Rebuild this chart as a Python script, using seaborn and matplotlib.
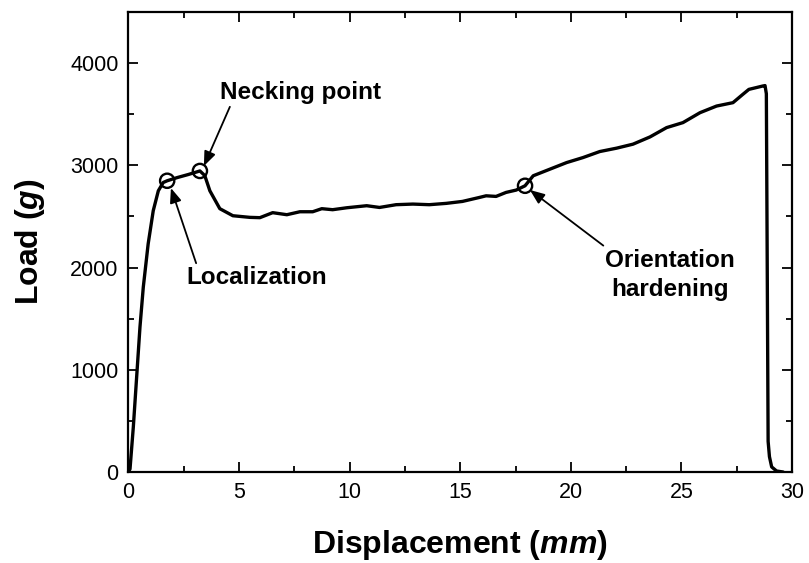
import numpy as np
import pandas as pd
import matplotlib
matplotlib.use("Agg")
import matplotlib.pyplot as plt
import seaborn as sns
from matplotlib.ticker import MultipleLocator

# Load-displacement record of the tensile test
displacement = [0.0, 0.07, 0.22, 0.37, 0.52, 0.67, 0.89, 1.12, 1.35, 1.57, 1.75,
                2.2, 2.7, 3.23, 3.45, 3.68, 4.13, 4.72, 5.49, 5.94, 6.52, 7.16,
                7.75, 8.33, 8.74, 9.23, 9.87, 10.77, 11.35, 12.1, 12.86, 13.6,
                14.37, 15.1, 15.87, 16.17, 16.62, 17.07, 17.53, 17.93, 18.3,
                19.06, 19.81, 20.55, 21.31, 22.07, 22.81, 23.58, 24.33, 25.07,
                25.84, 26.59, 27.33, 27.78, 28.05, 28.68, 28.78, 28.84, 28.88,
                28.92, 28.98, 29.08, 29.3, 29.6]
load = [0, 30, 442, 930, 1418, 1808, 2231, 2556, 2751, 2832, 2849,
        2880, 2910, 2945, 2900, 2751, 2576, 2507, 2491, 2488, 2537, 2517,
        2546, 2546, 2576, 2566, 2585, 2605, 2588, 2615, 2621, 2615,
        2628, 2647, 2686, 2702, 2696, 2735, 2758, 2800, 2898,
        2963, 3027, 3076, 3135, 3168, 3207, 3278, 3369, 3418,
        3515, 3580, 3613, 3695, 3743, 3776, 3780, 3700, 2000,
        300, 150, 50, 10, 0]

# Marked events on the curve
event_names = ["Localization", "Necking point", "Orientation\nhardening"]
event_x = [1.75, 3.23, 17.93]
event_y = [2849, 2945, 2800]

x_ticks = [0, 5, 10, 15, 20, 25, 30]
y_ticks = [0, 1000, 2000, 3000, 4000]

sns.set_theme(style="ticks")
plt.rcParams["font.family"] = ["Liberation Sans", "DejaVu Sans"]
plt.rcParams["mathtext.fontset"] = "custom"
plt.rcParams["mathtext.it"] = "Liberation Sans:italic:bold"
plt.rcParams["mathtext.rm"] = "Liberation Sans:bold"
plt.rcParams["text.color"] = "black"
plt.rcParams["axes.labelcolor"] = "black"
plt.rcParams["xtick.color"] = "black"
plt.rcParams["ytick.color"] = "black"

df = pd.DataFrame({"Displacement": displacement, "Load": load})

fig = plt.figure(figsize=(8.09, 5.63), dpi=100)
ax = fig.add_axes([0.1588, 0.1616, 0.979 - 0.1588, 0.9787 - 0.1616])

sns.lineplot(data=df, x="Displacement", y="Load", sort=False, estimator=None,
             color="black", linewidth=2.4, ax=ax)
sns.scatterplot(x=event_x, y=event_y, s=105, marker="o", facecolor="none",
                edgecolor="black", linewidth=1.7, zorder=5, ax=ax)

ax.set_xlim(0, 30)
ax.set_ylim(0, 4500)
ax.set_xticks(x_ticks)
ax.set_yticks(y_ticks)
ax.xaxis.set_minor_locator(MultipleLocator(2.5))
ax.yaxis.set_minor_locator(MultipleLocator(500))
ax.tick_params(which="both", direction="in", top=True, right=True,
               width=1.3, colors="black", labelcolor="black")
ax.tick_params(which="major", length=7, labelsize=15.5, pad=7)
ax.tick_params(which="minor", length=4)
for sp in ax.spines.values():
    sp.set_visible(True)
    sp.set_linewidth(1.6)
    sp.set_color("black")

ax.set_xlabel(r"Displacement $\mathit{(mm)}$", fontsize=23, fontweight="bold",
              labelpad=18, color="black")
ax.set_ylabel(r"Load ($\mathit{g}$)", fontsize=23, fontweight="bold",
              labelpad=17, color="black")

arrow = dict(arrowstyle="-|>,head_length=0.5,head_width=0.2", color="black",
             lw=1.3, shrinkA=0, shrinkB=0)
ax.annotate(event_names[0], xy=(1.92, 2778), xytext=(2.6, 1898),
            fontsize=17.5, fontweight="bold", ha="left", va="center",
            color="black", arrowprops=dict(arrow, relpos=(0.08, 1.0)))
ax.annotate(event_names[1], xy=(3.41, 2993), xytext=(4.14, 3717),
            fontsize=17.5, fontweight="bold", ha="left", va="center",
            color="black", arrowprops=dict(arrow, relpos=(0.07, 0.0)))
ax.annotate(event_names[2], xy=(18.15, 2759), xytext=(24.48, 1927),
            fontsize=17.5, fontweight="bold", ha="center", va="center",
            multialignment="center", linespacing=1.35, color="black",
            arrowprops=dict(arrow, relpos=(0.02, 1.0)))

fig.savefig("out.png", dpi=100)
